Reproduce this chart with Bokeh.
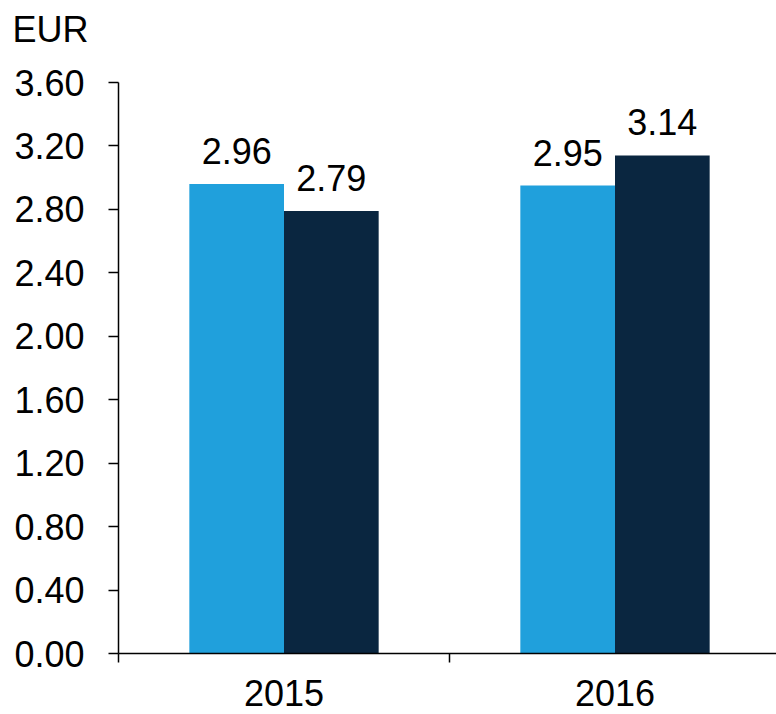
from bokeh.plotting import figure
from bokeh.models import FixedTicker, ColumnDataSource, Range1d, Title
from bokeh.embed import file_html
from bokeh.resources import INLINE
from bokeh.core.properties import value

categories = ["2015", "2016"]
series_a = [2.96, 2.95]
series_b = [2.79, 3.14]
y_ticks = [0.0, 0.4, 0.8, 1.2, 1.6, 2.0, 2.4, 2.8, 3.2, 3.6]
unit_label = "EUR"

LIGHT = "#20a0dc"
DARK = "#0a2640"
FONT = "Liberation Sans"

p = figure(width=776, height=714, output_backend="svg", toolbar_location=None,
           x_range=Range1d(0, 658 / 331), y_range=Range1d(0, 3.6),
           min_border_left=118, min_border_right=0, min_border_top=82,
           min_border_bottom=61)
p.outline_line_color = None
p.xgrid.visible = False
p.ygrid.visible = False
p.background_fill_color = "white"
p.border_fill_color = "white"

# spacer between frame and unit label, then the unit label itself
p.add_layout(Title(text=" ", text_font_size="10px", standoff=20), "above")
p.add_layout(Title(text=unit_label, text_font=FONT, text_font_size="36px",
                   text_font_style="normal", text_color="black",
                   align="left", offset=-106, standoff=0), "above")

centers = [i + 0.5 for i in range(len(categories))]
w = 0.286
src = ColumnDataSource(dict(
    xa=[c - w / 2 for c in centers], xb=[c + w / 2 for c in centers],
    a=series_a, b=series_b,
    la=["%.2f" % v for v in series_a], lb=["%.2f" % v for v in series_b]))

p.vbar(x="xa", top="a", width=w, bottom=0, source=src, fill_color=LIGHT, line_color=None)
p.vbar(x="xb", top="b", width=w, bottom=0, source=src, fill_color=DARK, line_color=None)

for xcol, ycol, lcol in (("xa", "a", "la"), ("xb", "b", "lb")):
    p.text(x=xcol, y=ycol, text=lcol, source=src, text_align="center",
           text_baseline="alphabetic", y_offset=-33,
           text_font=value(FONT), text_font_size="36px", text_color="black")

# x axis
xa = p.xaxis[0]
xa.ticker = FixedTicker(ticks=centers, minor_ticks=[float(i) for i in range(len(categories) + 1)])
xa.major_label_overrides = {c: cat for c, cat in zip(centers, categories)}
xa.major_tick_out = 0
xa.major_tick_in = 0
xa.minor_tick_out = 9
xa.minor_tick_in = 0
xa.minor_tick_line_color = "black"
xa.minor_tick_line_width = 1.5
xa.axis_line_color = "black"
xa.axis_line_width = 1.5
xa.major_label_standoff = 17
xa.major_label_text_font = FONT
xa.major_label_text_font_size = "36px"
xa.major_label_text_color = "black"

# y axis
ya = p.yaxis[0]
ya.ticker = FixedTicker(ticks=y_ticks, minor_ticks=[])
ya.major_label_overrides = {t: "%.2f" % t for t in y_ticks}
ya.major_tick_out = 10
ya.major_tick_in = 0
ya.major_tick_line_color = "black"
ya.major_tick_line_width = 1.5
ya.minor_tick_out = 0
ya.minor_tick_in = 0
ya.axis_line_color = "black"
ya.axis_line_width = 1.5
ya.major_label_standoff = 24
ya.major_label_text_font = FONT
ya.major_label_text_font_size = "36px"
ya.major_label_text_color = "black"

open("out.html", "w").write(file_html(p, INLINE))
